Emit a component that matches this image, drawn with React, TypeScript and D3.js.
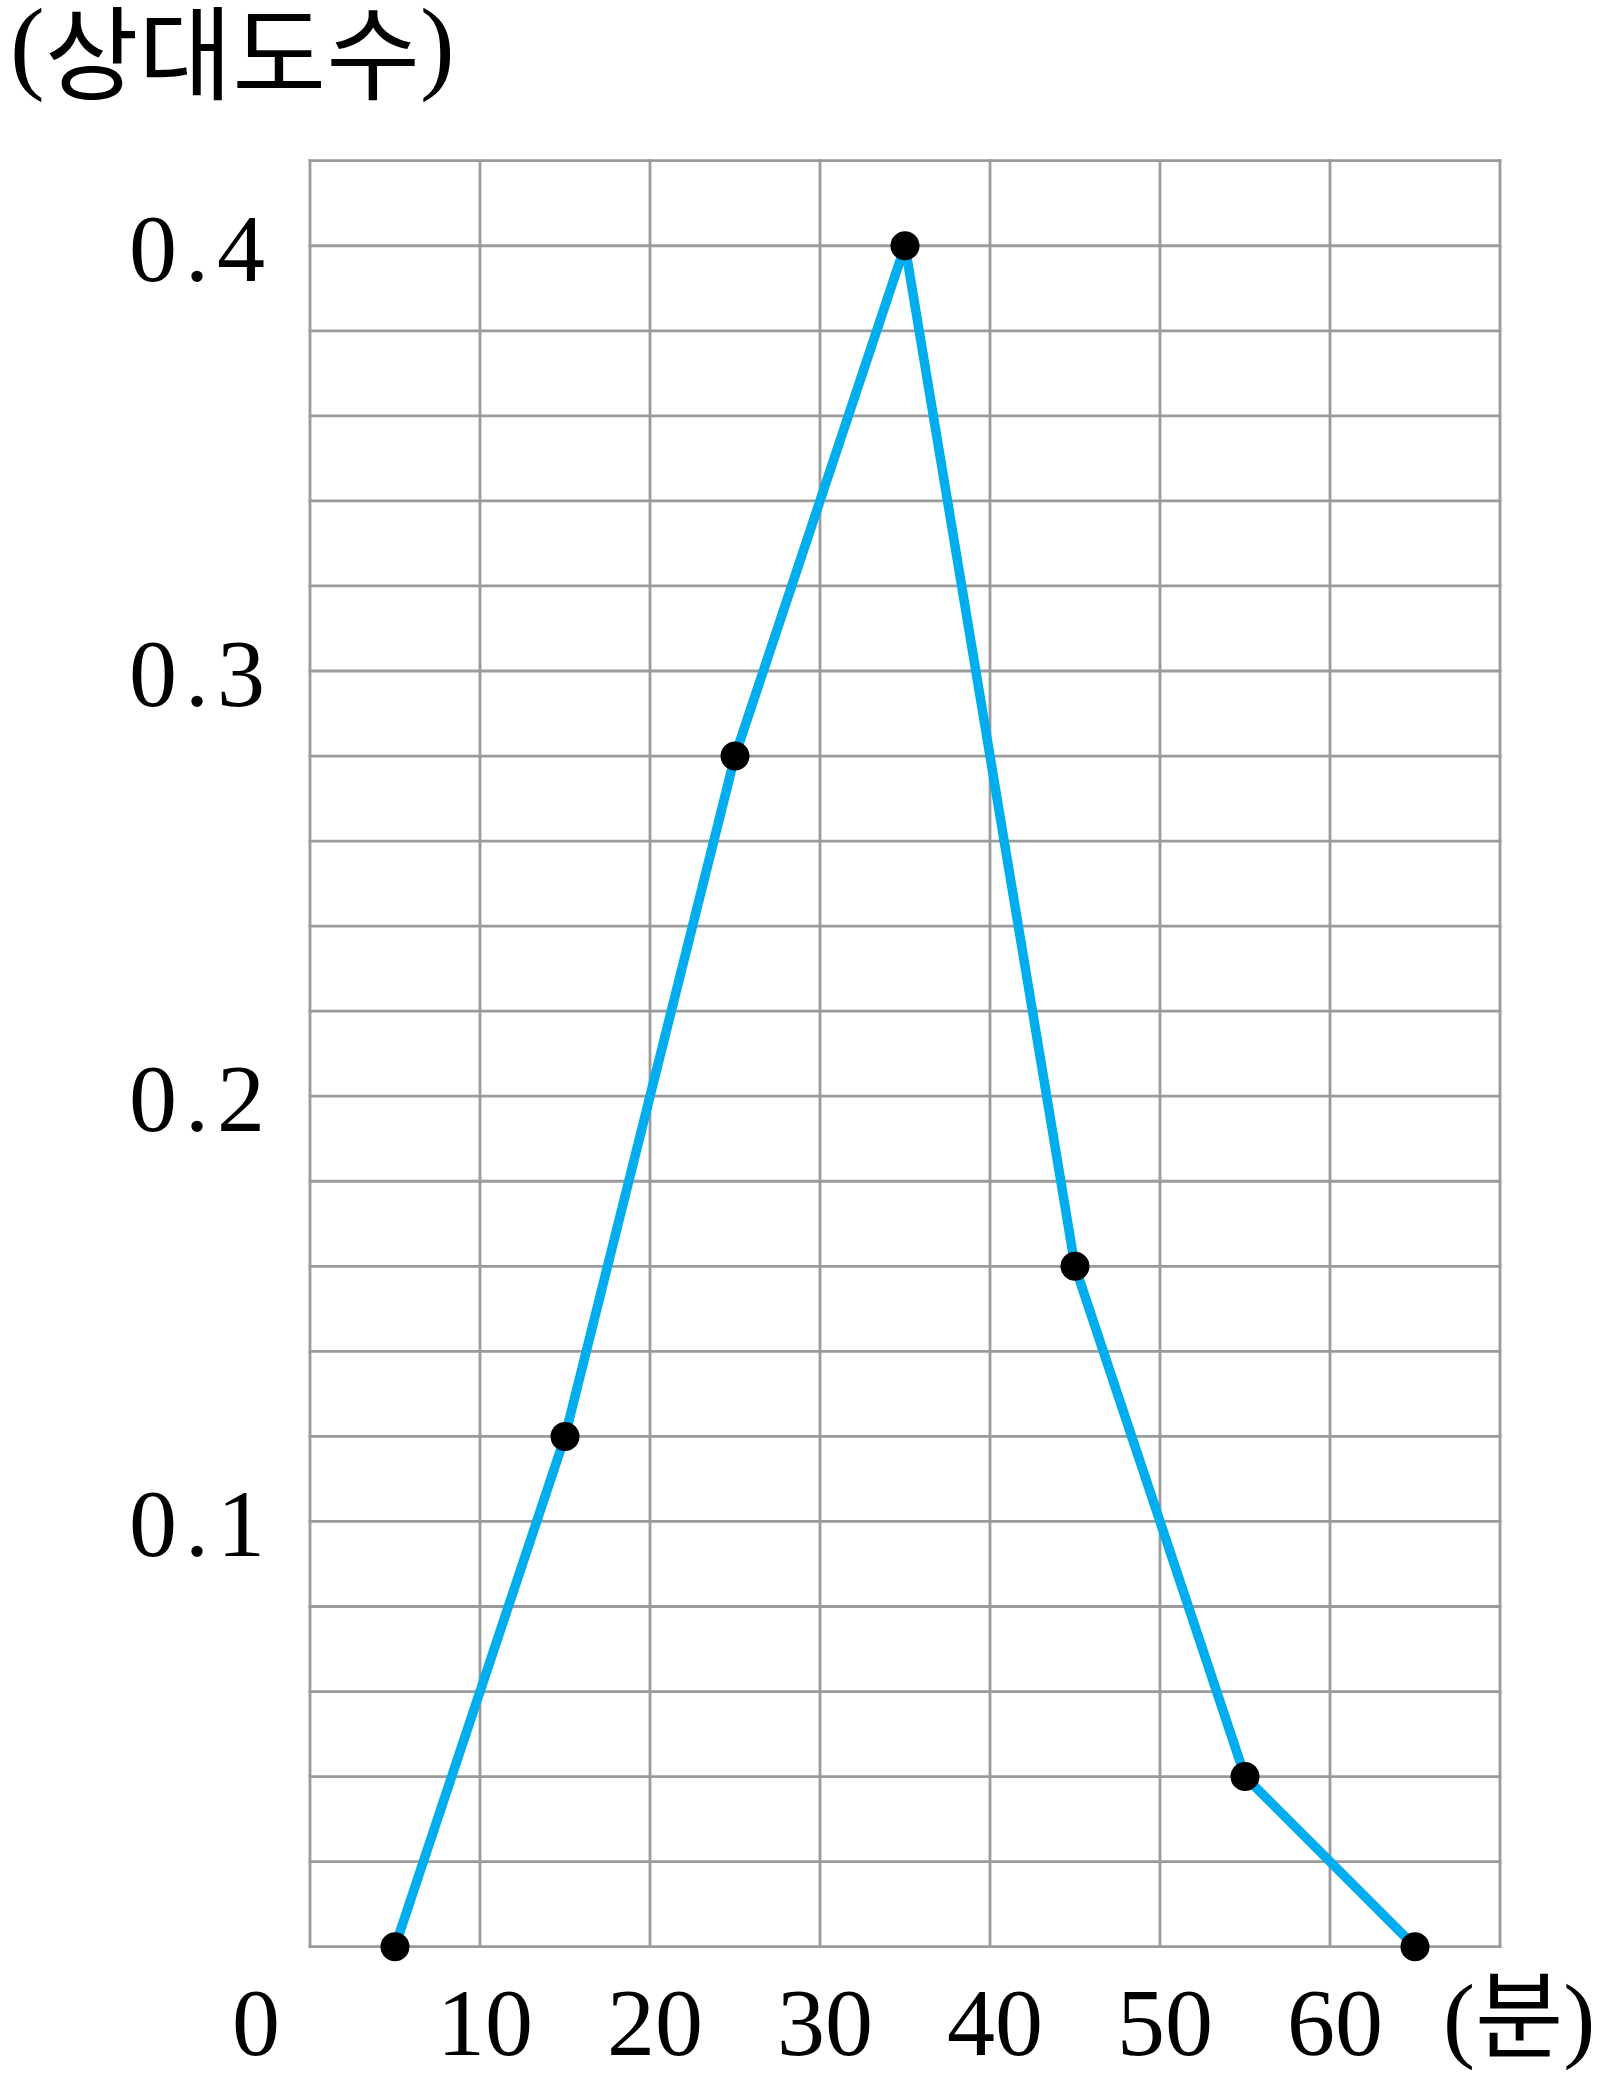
import React from "react";
import * as d3 from "d3";

const minutes = [5, 15, 25, 35, 45, 55, 65];
const relFreq = [0, 0.12, 0.28, 0.4, 0.16, 0.04, 0];
const xTicks = [10, 20, 30, 40, 50, 60];
const yTicks = [0.1, 0.2, 0.3, 0.4];
const yLabel = "상대도수";
const xLabel = "(분)";
const originLabel = "0";

const W = 1598;
const H = 2081;

export default function App() {
  React.useEffect(() => {
    document.body.style.margin = "0";
  }, []);

  const x = d3.scaleLinear().domain([0, 70]).range([310, 1500]);
  const y = d3.scaleLinear().domain([0, 0.42]).range([1946.7, 160.7]);

  const vLines = d3.range(0, 71, 10);
  const hLines = d3.range(0, 22).map((i) => +(i * 0.02).toFixed(2));

  const pts = minutes.map((m, i) => [m, relFreq[i]] as [number, number]);
  const line = d3
    .line<[number, number]>()
    .x((d) => x(d[0]))
    .y((d) => y(d[1]));

  const serif = "'Liberation Serif', 'Noto Sans CJK KR', serif";
  const gridColor = "#9b9b9b";

  return (
    <svg
      width={W}
      height={H}
      style={{ position: "absolute", left: 0, top: 0, background: "#fff" }}
    >
      <rect x={0} y={0} width={W} height={H} fill="#fff" />
      {hLines.map((v) => (
        <line
          key={"h" + v}
          x1={x(0)}
          x2={x(70)}
          y1={y(v)}
          y2={y(v)}
          stroke={gridColor}
          strokeWidth={2.8}
          strokeLinecap="square"
        />
      ))}
      {vLines.map((v) => (
        <line
          key={"v" + v}
          x1={x(v)}
          x2={x(v)}
          y1={y(0)}
          y2={y(0.42)}
          stroke={gridColor}
          strokeWidth={2.8}
          strokeLinecap="square"
        />
      ))}
      <path
        d={line(pts) || ""}
        fill="none"
        stroke="#00AEEF"
        strokeWidth={9.5}
        strokeLinejoin="miter"
      />
      {pts.map((p, i) => (
        <circle key={"c" + i} cx={x(p[0])} cy={y(p[1])} r={14.5} fill="#000" />
      ))}
      {yTicks.map((v) => (
        <text
          key={"yt" + v}
          x={273}
          y={y(v) + 35}
          textAnchor="end"
          fontFamily={serif}
          fontSize={96}
          letterSpacing={8}
          fill="#000"
        >
          {v.toFixed(1)}
        </text>
      ))}
      {xTicks.map((v) => (
        <text
          key={"xt" + v}
          x={x(v) + 5}
          y={2055}
          textAnchor="middle"
          fontFamily={serif}
          fontSize={96}
          fill="#000"
        >
          {String(v)}
        </text>
      ))}
      <text
        x={x(0) - 54}
        y={2055}
        textAnchor="middle"
        fontFamily={serif}
        fontSize={96}
        fill="#000"
      >
        {originLabel}
      </text>
      <text x={1443} y={2050} fontFamily={serif} fontSize={96} fill="#000">
        {xLabel}
      </text>
      <text x={10} y={80} fontFamily={serif} fontSize={104} fill="#000">
        <tspan>(</tspan>
        <tspan fontFamily="'Noto Sans CJK KR', sans-serif" fontSize={102} dy={12}>
          {yLabel}
        </tspan>
        <tspan dy={-12}>)</tspan>
      </text>
    </svg>
  );
}
